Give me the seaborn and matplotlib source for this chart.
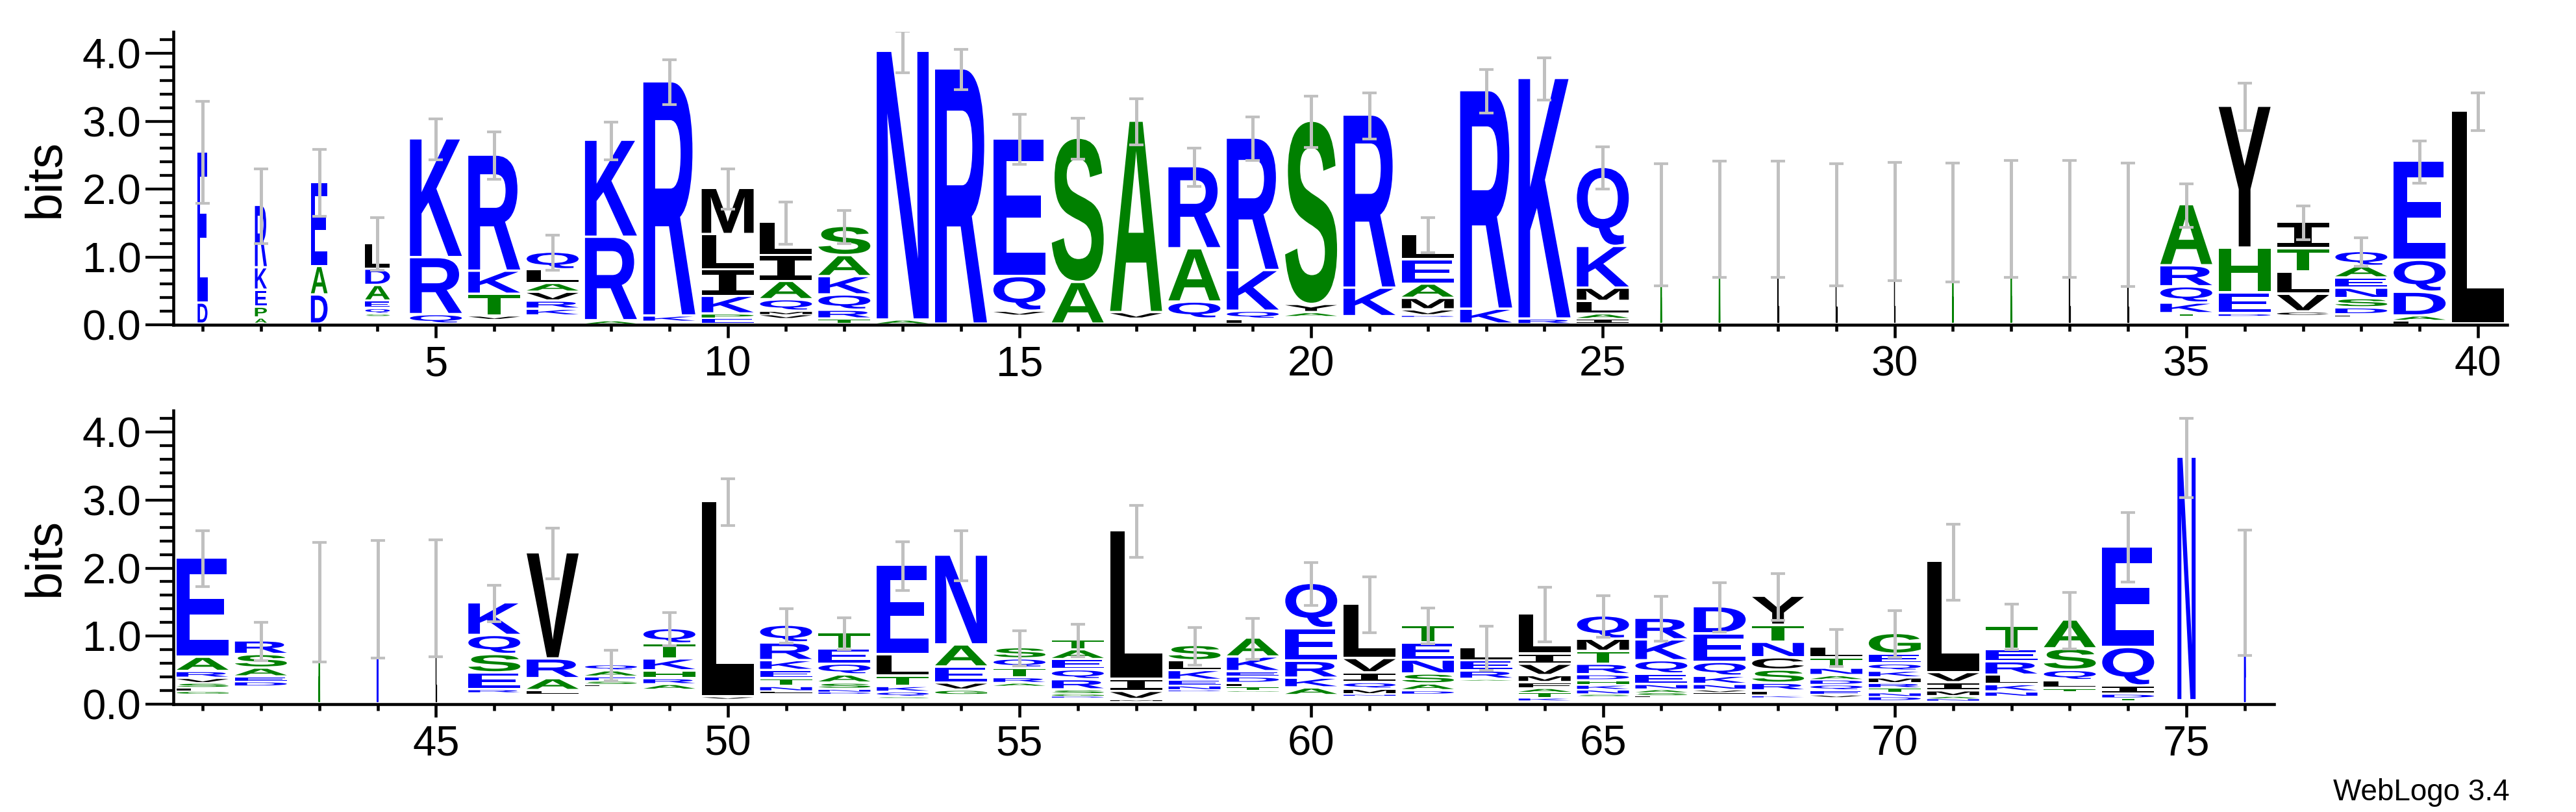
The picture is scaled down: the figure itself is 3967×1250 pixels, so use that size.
import matplotlib
matplotlib.use("Agg")
import matplotlib.pyplot as plt
import seaborn as sns
from matplotlib.textpath import TextPath
from matplotlib.font_manager import FontProperties
from matplotlib.patches import PathPatch
from matplotlib.path import Path
from matplotlib.ticker import MultipleLocator, FixedLocator, FormatStrFormatter

positions = list(range(1, 77))

# letters of each stack, bottom -> top
stack_letters = [
    "DE", "APEKR", "DAE", "SQEADL", "QRK", "VTKR", "KRVALQ", "ARK", "KR", "EPKILM",
    "VMQAIL", "TRQKAS", "AN", "R", "VQE", "AS", "VA", "QAR", "LQKR", "AYS",
    "KR", "DVMAEL", "KR", "RK", "IALMKQ", "A", "A", "L", "L", "L",
    "A", "A", "L", "L", "TKQRA", "DEHY", "CVLTI", "LDSNEAQ", "LADQE", "L",
    "GLSVRAE", "DEASR", "A", "N", "L", "RESQK", "LARV", "LSEAQ", "ARHKTQ", "VL",
    "LNTEKRQ", "DNSAQET", "SQKTLE", "LGVEAN", "ARTQS", "DGSRQEAT", "MVIL", "DNEKLS", "GTLDEKA", "LAKREQ",
    "NMQIVL", "DASNET", "AREL", "KTAFMVIL", "SNKHDRTMQ", "LSANEQKR", "LVNKQED", "KLRSCNTY", "VEQDANTL", "DNTRMKQEG",
    "NAMIVL", "NKLRET", "TLQSA", "TDIQE", "N", "N",
]

# letter heights in bits, same order as the letters
stack_heights = [
    [0.31, 2.23], [0.09, 0.16, 0.25, 0.33, 0.92], [0.43, 0.42, 1.24],
    [0.03, 0.08, 0.11, 0.23, 0.24, 0.38], [0.14, 0.84, 1.75], [0.05, 0.32, 0.34, 1.71],
    [0.10, 0.12, 0.13, 0.13, 0.20, 0.26], [0.05, 1.23, 1.43], [0.09, 3.45],
    [0.085, 0.065, 0.26, 0.39, 0.52, 0.68], [0.06, 0.05, 0.17, 0.27, 0.38, 0.49],
    [0.075, 0.13, 0.225, 0.27, 0.31, 0.43], [0.06, 3.96], [3.76], [0.06, 0.51, 2.03],
    [0.615, 2.125], [0.095, 2.82], [0.25, 0.785, 1.21], [0.07, 0.12, 0.60, 1.95],
    [0.06, 0.12, 2.70], [0.42, 2.55], [0.02, 0.08, 0.17, 0.21, 0.36, 0.37], [0.22, 3.22],
    [0.075, 3.545], [0.075, 0.075, 0.185, 0.195, 0.615, 1.165],
    [1.47], [1.555], [1.555], [1.47], [1.52], [1.51], [1.56], [1.56], [1.47],
    [0.034, 0.156, 0.24, 0.31, 0.90], [0.034, 0.306, 0.66, 2.09], [0.05, 0.26, 0.33, 0.34, 0.39],
    [0.017, 0.103, 0.136, 0.154, 0.15, 0.17, 0.22], [0.05, 0.07, 0.35, 0.47, 1.46], [3.14],
    [0.04, 0.05, 0.07, 0.07, 0.10, 0.21, 1.46], [0.07, 0.07, 0.13, 0.20, 0.20],
    [1.50], [1.54], [1.56], [0.045, 0.245, 0.27, 0.28, 0.48], [0.05, 0.175, 0.29, 1.56],
    [0.02, 0.05, 0.06, 0.09, 0.09], [0.08, 0.085, 0.115, 0.175, 0.22, 0.225], [0.03, 2.87],
    [0.02, 0.07, 0.115, 0.12, 0.145, 0.26, 0.26], [0.025, 0.04, 0.09, 0.12, 0.16, 0.22, 0.24],
    [0.015, 0.07, 0.08, 0.15, 0.32, 1.31], [0.01, 0.07, 0.105, 0.235, 0.325, 1.32],
    [0.044, 0.08, 0.14, 0.135, 0.165], [0.02, 0.033, 0.057, 0.15, 0.145, 0.15, 0.145, 0.145],
    [0.018, 0.12, 0.18, 2.18], [0.015, 0.06, 0.08, 0.145, 0.143, 0.225],
    [0.01, 0.058, 0.051, 0.093, 0.078, 0.215, 0.279], [0.006, 0.113, 0.143, 0.249, 0.479, 0.665],
    [0.021, 0.073, 0.097, 0.143, 0.212, 0.795], [0.051, 0.099, 0.146, 0.205, 0.249, 0.263],
    [0.014, 0.123, 0.15, 0.192], [0.041, 0.078, 0.062, 0.085, 0.103, 0.167, 0.147, 0.596],
    [0.028, 0.063, 0.07, 0.068, 0.085, 0.154, 0.188, 0.18, 0.342],
    [0.014, 0.044, 0.045, 0.075, 0.153, 0.195, 0.307, 0.318],
    [0.017, 0.033, 0.08, 0.12, 0.204, 0.42, 0.399],
    [0.024, 0.068, 0.113, 0.194, 0.181, 0.228, 0.25, 0.427],
    [0.034, 0.065, 0.082, 0.075, 0.062, 0.109, 0.153, 0.154],
    [0.06, 0.058, 0.068, 0.071, 0.079, 0.099, 0.107, 0.142, 0.305],
    [0.033, 0.034, 0.079, 0.119, 0.15, 1.634], [0.07, 0.107, 0.139, 0.197, 0.178, 0.345],
    [0.04, 0.118, 0.151, 0.316, 0.424], [0.039, 0.059, 0.119, 0.566, 1.48], [3.58], [1.634],
]

# information of tiny letters too thin to be seen (bits), under each stack
hidden_bits = [
    0, 0, 0, 0.12, 0, 0.07, 0.12, 0, 0.03, 0,
    0.08, 0, 0, 0, 0.13, 0, 0.075, 0.075, 0, 0.11,
    0.11, 0.11, 0, 0, 0, 0, 0, 0, 0, 0,
    0, 0, 0, 0, 0.12, 0.12, 0.13, 0.12, 0, 0,
    0.14, 0.25, 0, 0, 0, 0.16, 0.14, 0.26, 0.20, 0.07,
    0.16, 0.145, 0.085, 0.116, 0.256, 0.09, 0.04, 0.185, 0.178, 0.11,
    0.116, 0.137, 0.341, 0.041, 0.109, 0.102, 0.15, 0.092, 0.092, 0.04,
    0.04, 0.10, 0.178, 0.04, 0.04, 0,
]

# relative stack width (fraction of non-gap sequences)
stack_width = [
    0.19, 0.23, 0.32, 0.475, 1, 1, 1, 1, 1, 1,
    1, 1, 1, 1, 1, 1, 1, 1, 1, 1,
    1, 1, 1, 1, 1, 0.02, 0.02, 0.02, 0.02, 0.02,
    0.02, 0.02, 0.02, 0.02, 1, 1, 1, 1, 1, 1,
    1, 1, 0.02, 0.02, 0.02, 1, 1, 1, 1, 1,
    1, 1, 1, 1, 1, 1, 1, 1, 1, 1,
    1, 1, 1, 1, 1, 1, 1, 1, 1, 1,
    1, 1, 1, 1, 0.35, 0.02,
]

# error bar half-lengths (bits)
error_bits = [
    0.75, 0.55, 0.49, 0.39, 0.30, 0.35, 0.26, 0.28, 0.33, 0.30,
    0.31, 0.24, 0.31, 0.30, 0.37, 0.30, 0.34, 0.28, 0.32, 0.38,
    0.34, 0.26, 0.32, 0.31, 0.31, 0.90, 0.86, 0.86, 0.90, 0.87,
    0.875, 0.86, 0.86, 0.91, 0.32, 0.35, 0.25, 0.21, 0.31, 0.28,
    0.41, 0.28, 0.88, 0.865, 0.86, 0.27, 0.37, 0.225, 0.244, 0.345,
    0.256, 0.234, 0.36, 0.37, 0.26, 0.24, 0.38, 0.276, 0.30, 0.314,
    0.41, 0.265, 0.324, 0.40, 0.307, 0.33, 0.367, 0.345, 0.276, 0.346,
    0.56, 0.332, 0.415, 0.51, 0.58, 0.92,
]

ymax_bits = 4.32
panel_ranges = [(1, 40), (41, 76)]

# ---------------- style ----------------
sns.set_style("ticks", rc={"axes.edgecolor": "black", "xtick.color": "black",
                           "ytick.color": "black", "text.color": "black",
                           "axes.labelcolor": "black"})
plt.rcParams["font.family"] = ["Liberation Sans", "DejaVu Sans"]

BLUE, GREEN, BLACK = "#0000FF", "#008000", "#000000"
color_of = {}
for c in "RKDENQ":
    color_of[c] = BLUE
for c in "SATGHP":
    color_of[c] = GREEN
for c in "LMIVYFWC":
    color_of[c] = BLACK

font_bold = FontProperties(family="Liberation Sans", weight="bold")
font_mono = FontProperties(family="DejaVu Sans Mono", weight="bold")
_glyph_cache = {}


def unit_glyph(ch):
    if ch not in _glyph_cache:
        fp = font_mono if ch == "I" else font_bold
        tp = TextPath((0, 0), ch, size=1, prop=fp)
        ext = tp.get_extents()
        v = (tp.vertices - [ext.x0, ext.y0]) / [ext.width, ext.height]
        _glyph_cache[ch] = (v, tp.codes)
    return _glyph_cache[ch]


FULL_W = 0.89


def draw_letter(ax, ch, xc, y0, w, h, thin):
    gap = min(0.035, 0.35 * h)
    hh = h - gap
    if hh <= 0:
        return
    v, codes = unit_glyph(ch)
    verts = v * [w, hh] + [xc - w / 2, y0 + gap]
    col = color_of[ch]
    ax.add_patch(PathPatch(Path(verts, codes), facecolor=col,
                           edgecolor=col if thin else "none",
                           lw=0.9 if thin else 0, zorder=3))


fig = plt.figure(figsize=(39.67, 12.5), dpi=100)
ax_top = fig.add_axes([267 / 3967, 1 - 500 / 1250, (3861 - 267) / 3967, 451.4 / 1250])
ax_bot = fig.add_axes([267 / 3967, 1 - 1084 / 1250, (3502 - 267) / 3967, 452.5 / 1250])

for ax, (p0, p1) in zip([ax_top, ax_bot], panel_ranges):
    tops, xs, errs = [], [], []
    for i, pos in enumerate(positions):
        if pos < p0 or pos > p1:
            continue
        y = hidden_bits[i]
        w = FULL_W * stack_width[i]
        thin = stack_width[i] < 0.1
        for ch, h in zip(stack_letters[i], stack_heights[i]):
            draw_letter(ax, ch, pos, y, w, h, thin)
            y += h
        tops.append(y)
        xs.append(pos)
        errs.append(error_bits[i])
    ax.errorbar(xs, tops, yerr=errs, fmt="none", ecolor="#C0C0C0",
                elinewidth=3.6, capsize=7.6, capthick=3.0, zorder=5)

    ax.set_xlim(p0 - 0.5, p1 + 0.5)
    ax.set_ylim(0, ymax_bits)
    ax.xaxis.set_major_locator(FixedLocator([p for p in range(5, 80, 5) if p0 <= p <= p1]))
    ax.xaxis.set_minor_locator(MultipleLocator(1))
    ax.yaxis.set_major_locator(MultipleLocator(1))
    ax.yaxis.set_minor_locator(MultipleLocator(0.2))
    ax.yaxis.set_major_formatter(FormatStrFormatter("%.1f"))
    ax.tick_params(axis="x", which="major", direction="out", length=14.5, width=3.3,
                   pad=8, labelsize=47)
    ax.tick_params(axis="x", which="minor", direction="out", length=7, width=3.3)
    ax.tick_params(axis="y", which="major", direction="out", length=31, width=3.1,
                   pad=4.5, labelsize=47)
    ax.tick_params(axis="y", which="minor", direction="out", length=15, width=3.1)
    for side in ["left", "bottom"]:
        ax.spines[side].set_linewidth(3.3)
    ax.set_ylabel("bits", fontsize=56, va="center", ha="center")
    ax.patch.set_alpha(0)

sns.despine(fig=fig)
ax_top.yaxis.set_label_coords((70 - 267) / (3861 - 267), 0.5)
ax_bot.yaxis.set_label_coords((70 - 267) / (3502 - 267), 0.5)

fig.text(3865 / 3967, 1 - 1232 / 1250, "WebLogo 3.4", ha="right", va="baseline", fontsize=33)

fig.savefig("out.png", dpi=100, facecolor="white")
